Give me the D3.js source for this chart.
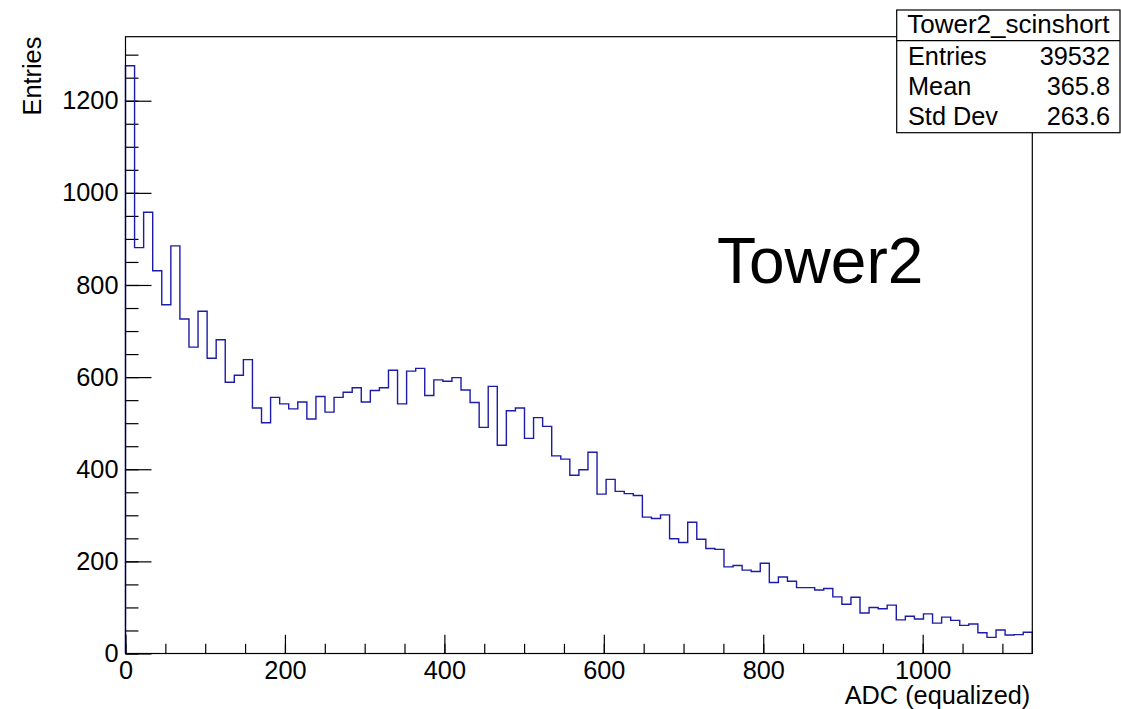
<!DOCTYPE html>
<html>
<head>
<meta charset="utf-8">
<script src="https://cdn.jsdelivr.net/npm/d3@7"></script>
<style>
  html, body { margin: 0; padding: 0; background: #fff; }
  svg { display: block; }
  text { font-family: "Liberation Sans", Arial, Helvetica, sans-serif; fill: #000; }
</style>
</head>
<body>
<svg id="chart" width="1121" height="709"></svg>
<script>
// Histogram definition: 100 equal bins over the ADC range
const histName = "Tower2_scinshort";
const xRange = [0, 1137.5];
const yMax = 1339;
const counts = [
  1276, 881, 958, 831, 757, 885, 726, 665, 743, 641,
  681, 589, 604, 638, 533, 501, 556, 542, 531, 546,
  509, 558, 524, 556, 567, 577, 546, 571, 577, 615,
  542, 613, 619, 560, 594, 591, 599, 572, 545, 491,
  580, 452, 527, 533, 467, 512, 493, 429, 422, 387,
  399, 437, 346, 378, 352, 347, 343, 296, 293, 301,
  249, 241, 285, 248, 228, 226, 188, 191, 181, 178,
  196, 154, 166, 157, 143, 143, 138, 141, 123, 107,
  122, 88, 100, 97, 105, 73, 81, 75, 86, 66,
  79, 72, 61, 64, 45, 35, 51, 40, 41, 46
];
const xTickValues = [0, 200, 400, 600, 800, 1000];
const yTickValues = [0, 200, 400, 600, 800, 1000, 1200];
const statLabels = ["Entries", "Mean", "Std Dev"];
const statValues = ["39532", "365.8", "263.6"];
const xTitle = "ADC (equalized)";
const yTitle = "Entries";
const panelLabel = "Tower2";

const svg = d3.select("#chart");
const frame = { left: 125.5, right: 1032.3, top: 36.7, bottom: 653.5 };

const x = d3.scaleLinear().domain(xRange).range([frame.left, frame.right]);
const y = d3.scaleLinear().domain([0, yMax]).range([frame.bottom, frame.top]);

const fontSize = 25.3;

// Minor ticks every 50 units on both axes
const xMinor = d3.range(0, xRange[1], 50);
const yMinor = d3.range(0, yMax, 50);

svg.append("g")
  .attr("transform", `translate(0,${frame.bottom})`)
  .call(d3.axisBottom(x).tickValues(xMinor).tickSizeInner(-9.7).tickSizeOuter(0).tickFormat(""))
  .call(g => g.select(".domain").remove())
  .call(g => g.selectAll("line").attr("stroke", "#000").attr("stroke-width", 1.2));

svg.append("g")
  .attr("transform", `translate(0,${frame.bottom})`)
  .call(d3.axisBottom(x).tickValues(xTickValues).tickSizeInner(-18.7).tickSizeOuter(0).tickPadding(8).tickFormat(d3.format("d")))
  .call(g => g.select(".domain").remove())
  .call(g => g.selectAll("line").attr("stroke", "#000").attr("stroke-width", 1.2))
  .call(g => g.selectAll("text").attr("font-size", fontSize).style("font-family", "'Liberation Sans', Arial, sans-serif"));

svg.append("g")
  .attr("transform", `translate(${frame.left},0)`)
  .call(d3.axisLeft(y).tickValues(yMinor).tickSizeInner(-13).tickSizeOuter(0).tickFormat(""))
  .call(g => g.select(".domain").remove())
  .call(g => g.selectAll("line").attr("stroke", "#000").attr("stroke-width", 1.2));

svg.append("g")
  .attr("transform", `translate(${frame.left},0)`)
  .call(d3.axisLeft(y).tickValues(yTickValues).tickSizeInner(-26).tickSizeOuter(0).tickPadding(7).tickFormat(d3.format("d")))
  .call(g => g.select(".domain").remove())
  .call(g => g.selectAll("line").attr("stroke", "#000").attr("stroke-width", 1.2))
  .call(g => g.selectAll("text").attr("font-size", fontSize).style("font-family", "'Liberation Sans', Arial, sans-serif"));

// Histogram outline (step shape)
const binWidth = (xRange[1] - xRange[0]) / counts.length;
const pts = [[x(xRange[0]), y(0)]];
counts.forEach((c, i) => {
  const x0 = xRange[0] + i * binWidth;
  pts.push([x(x0), y(c)]);
  pts.push([x(x0 + binWidth), y(c)]);
});
pts.push([x(xRange[1]), y(0)]);

svg.append("path")
  .attr("d", d3.line()(pts))
  .attr("fill", "none")
  .attr("stroke", "#1c1ca8")
  .attr("stroke-width", 1.4)
  .attr("stroke-linejoin", "miter");

// Frame
svg.append("rect")
  .attr("x", frame.left).attr("y", frame.top)
  .attr("width", frame.right - frame.left).attr("height", frame.bottom - frame.top)
  .attr("fill", "none").attr("stroke", "#000").attr("stroke-width", 1.2);

// Axis titles
svg.append("text")
  .attr("x", frame.right - 2).attr("y", 704)
  .attr("text-anchor", "end").attr("font-size", fontSize)
  .text(xTitle);

svg.append("text")
  .attr("transform", `translate(41,${frame.top}) rotate(-90)`)
  .attr("text-anchor", "end").attr("font-size", fontSize)
  .text(yTitle);

// Large panel label
svg.append("text")
  .attr("x", 717).attr("y", 283)
  .attr("font-size", 64)
  .text(panelLabel);

// Statistics box
const box = { left: 896.7, right: 1120, top: 10, bottom: 132.7, sep: 40.7 };
svg.append("rect")
  .attr("x", box.left).attr("y", box.top)
  .attr("width", box.right - box.left).attr("height", box.bottom - box.top)
  .attr("fill", "#fff").attr("stroke", "#000").attr("stroke-width", 1.2);
svg.append("line")
  .attr("x1", box.left).attr("x2", box.right)
  .attr("y1", box.sep).attr("y2", box.sep)
  .attr("stroke", "#000").attr("stroke-width", 1.2);
svg.append("text")
  .attr("x", (box.left + box.right) / 2).attr("y", 33)
  .attr("text-anchor", "middle").attr("font-size", 26)
  .text(histName);

const rowY = [65, 95, 125];
statLabels.forEach((lab, i) => {
  svg.append("text").attr("x", 908).attr("y", rowY[i])
    .attr("font-size", fontSize).text(lab);
  svg.append("text").attr("x", 1110).attr("y", rowY[i])
    .attr("text-anchor", "end").attr("font-size", fontSize).text(statValues[i]);
});
</script>
</body>
</html>
